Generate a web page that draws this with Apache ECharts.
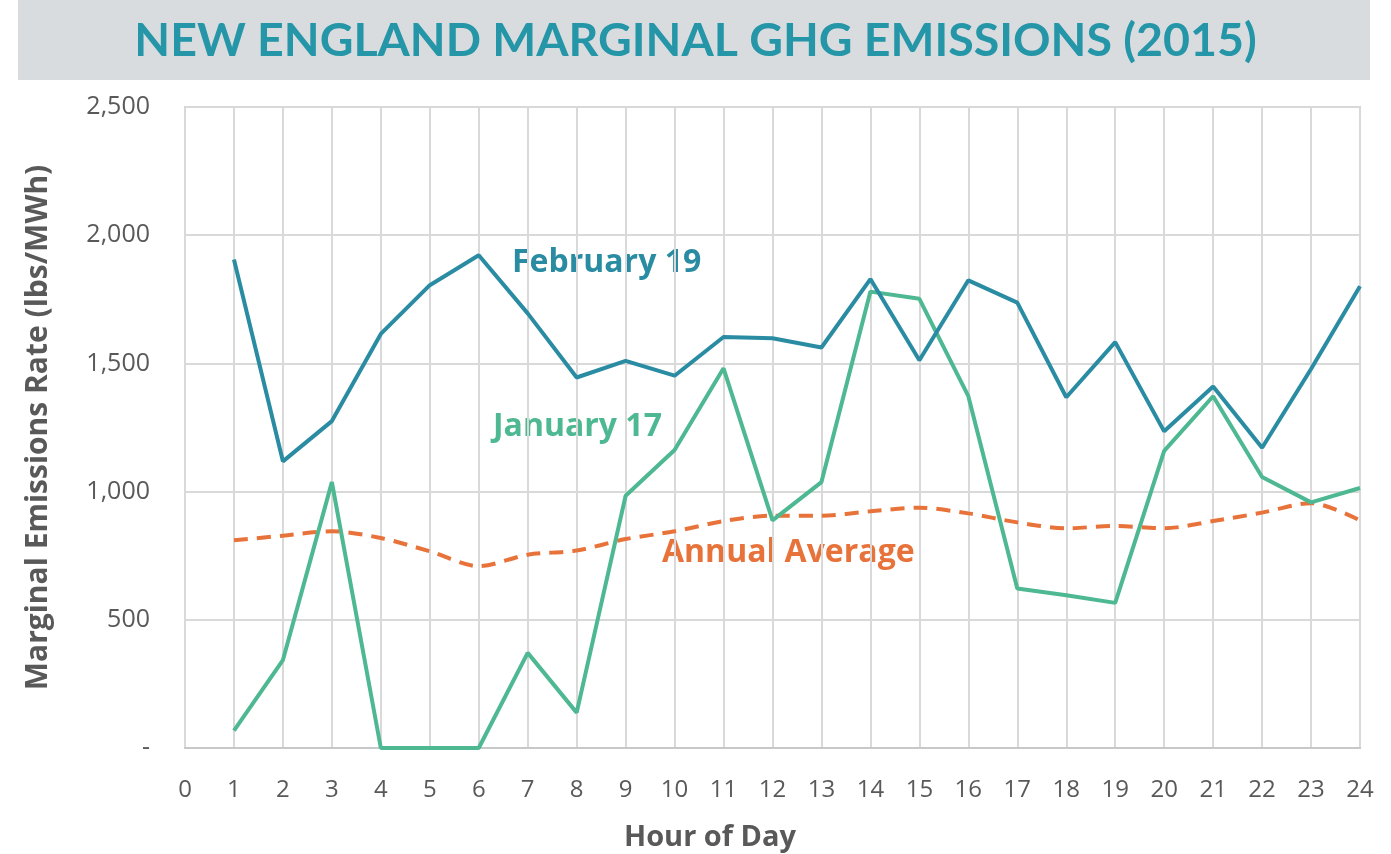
<!DOCTYPE html>
<html>
<head>
<meta charset="utf-8">
<script src="https://cdn.jsdelivr.net/npm/echarts@6/dist/echarts.min.js"></script>
<style>
  html, body { margin: 0; padding: 0; background: #fff; }
  #chart { width: 1391px; height: 854px; }
</style>
</head>
<body>
<div id="chart"></div>
<script>
// hours of the day and the three series (lbs/MWh)
var hours = [1, 2, 3, 4, 5, 6, 7, 8, 9, 10, 11, 12, 13, 14, 15, 16, 17, 18, 19, 20, 21, 22, 23, 24];
var feb19 = [1905, 1118, 1275, 1615, 1805, 1922, 1695, 1445, 1510, 1452, 1603, 1598, 1562, 1829, 1512, 1824, 1737, 1368, 1583, 1235, 1410, 1171, 1478, 1801];
var jan17 = [68, 343, 1037, 0, 0, 0, 371, 138, 984, 1162, 1481, 888, 1037, 1780, 1752, 1372, 622, 596, 566, 1159, 1372, 1057, 958, 1014];
var annualAvg = [810, 828, 845, 819, 767, 709, 754, 770, 815, 845, 885, 906, 906, 923, 937, 915, 880, 857, 866, 857, 885, 918, 955, 888];
var yTicks = [0, 500, 1000, 1500, 2000, 2500];

function pairs(vals) {
  return hours.map(function (h, i) { return [h, vals[i]]; });
}

var chart = echarts.init(document.getElementById('chart'));

var option = {
  backgroundColor: '#fff',
  animation: false,
  title: {
    text: 'NEW ENGLAND MARGINAL GHG EMISSIONS (2015)',
    left: 'center',
    top: 12,
    textStyle: { fontFamily: 'Lato', fontWeight: 'bold', fontSize: 46.5, color: '#2596A8' }
  },
  graphic: [
    { type: 'rect', z: -10, shape: { x: 18, y: 0, width: 1352, height: 80 }, style: { fill: '#D9DCDF' } },
    { type: 'text', left: 512, top: 247, style: { text: 'February 19', font: 'bold 32px "Open Sans"', fill: '#2A8CA3' } },
    { type: 'text', left: 493, top: 411, style: { text: 'January 17', font: 'bold 32px "Open Sans"', fill: '#4DB892' } },
    { type: 'text', left: 662, top: 537, style: { text: 'Annual Average', font: 'bold 32px "Open Sans"', fill: '#E8733A' } },
    { type: 'text', x: 710, y: 838, style: { text: 'Hour of Day', font: 'bold 29px "Open Sans"', fill: '#595959', textAlign: 'center', textVerticalAlign: 'middle' } }
  ],
  grid: {
    left: 185, right: 31, top: 107, bottom: 106,
    show: true, borderColor: '#d0d0d0', borderWidth: 2
  },
  xAxis: {
    type: 'value',
    min: 0, max: 24, interval: 1,
    axisLine: { show: true, lineStyle: { color: '#c8c8c8', width: 2 } },
    axisTick: { show: false },
    axisLabel: { margin: 30, fontFamily: 'Open Sans', fontSize: 24, color: '#595959' },
    splitLine: { show: true, lineStyle: { color: '#d9d9d9', width: 2 } }
  },
  yAxis: {
    type: 'value',
    min: 0, max: 2500, interval: 500,
    name: 'Marginal Emissions Rate (lbs/MWh)',
    nameLocation: 'middle',
    nameGap: 132,
    nameTextStyle: { fontFamily: 'Open Sans', fontWeight: 'bold', fontSize: 30, color: '#595959' },
    axisLine: { show: false },
    axisTick: { show: false },
    axisLabel: {
      margin: 35,
      fontFamily: 'Open Sans', fontSize: 25, color: '#595959',
      formatter: function (v) {
        return yTicks.indexOf(v) === 0 ? '-' : v.toLocaleString('en-US');
      }
    },
    splitLine: { show: true, lineStyle: { color: '#d9d9d9', width: 2 } }
  },
  series: [
    {
      name: 'Annual Average', type: 'line', data: pairs(annualAvg),
      showSymbol: false, smooth: 0.3,
      lineStyle: { color: '#E8733A', width: 4, type: [14, 9] }
    },
    {
      name: 'January 17', type: 'line', data: pairs(jan17),
      showSymbol: false,
      lineStyle: { color: '#4DB892', width: 4 }
    },
    {
      name: 'February 19', type: 'line', data: pairs(feb19),
      showSymbol: false,
      lineStyle: { color: '#2A8CA3', width: 4 }
    }
  ]
};

chart.setOption(option);
</script>
</body>
</html>
